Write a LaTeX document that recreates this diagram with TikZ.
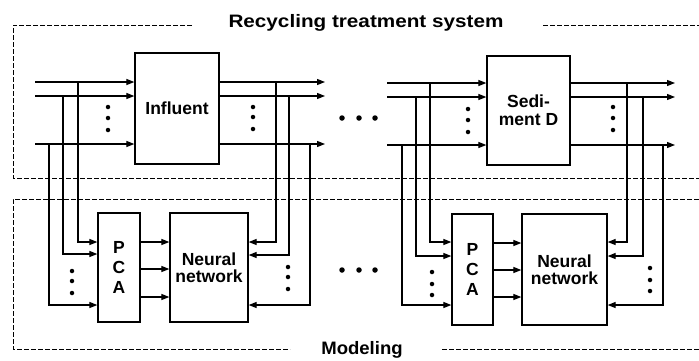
\documentclass[tikz,border=0pt]{standalone}
\usepackage{fontspec}
\setmainfont{Liberation Sans}
\usetikzlibrary{arrows.meta}
\begin{document}
\begin{tikzpicture}[x=1pt,y=-1pt,
  line width=1.2pt,
  arr/.style={-{Triangle[length=8pt,width=6pt]}},
  frame/.style={line width=1pt,dash pattern=on 5pt off 2pt},
  blk/.style={draw,line width=1.3pt,inner sep=0pt,font=\fontsize{17.5}{19}\selectfont\bfseries,align=center},
  dotm/.style={circle,fill,inner sep=0pt,minimum size=4.5pt},
  bigdot/.style={circle,fill,inner sep=0pt,minimum size=5.5pt},
  lbl/.style={inner sep=0pt,font=\fontsize{18}{18}\selectfont\bfseries}]
\useasboundingbox (0,0) rectangle (699,360);
\fill[white] (0,0) rectangle (699,360);

% frames
\node[lbl] (title) at (366,23) {\scalebox{1.15}[1]{Recycling treatment system}};
\node[lbl] (model) at (362,350) {\scalebox{1.03}[1]{Modeling}};
\draw[frame] (192,25) -- (13,25) -- (13,178) -- (699,178);
\draw[frame] (543,25) -- (699,25);
\draw[frame] (699,199) -- (13,199) -- (13,349) -- (290,349);
\draw[frame] (442,349) -- (699,349);

% blocks
\node[blk,minimum width=84pt,minimum height=111pt] (infl) at (177,108.5) {Influent};
\node[blk,minimum width=83pt,minimum height=109pt] (sed) at (528.5,110.5) {Sedi-\\[-1pt]ment D};
\node[blk,minimum width=42pt,minimum height=109pt] (pcaA) at (119,267.5) {P\\[1pt]C\\[1pt]A};
\node[blk,minimum width=78pt,minimum height=109pt] (nnA) at (209,267.5) {Neural\\[-2pt]network};
\node[blk,minimum width=41pt,minimum height=111pt] (pcaB) at (472.5,269.5) {P\\[1pt]C\\[1pt]A};
\node[blk,minimum width=85pt,minimum height=111pt] (nnB) at (564.5,269.5) {Neural\\[-2pt]network};

% group A input/output coordinates
\coordinate (ai1) at (35,82);  \coordinate (ai2) at (35,96);  \coordinate (ai3) at (35,144);
\coordinate (ao1) at (325,82); \coordinate (ao2) at (325,96); \coordinate (ao3) at (325,144);
\draw[arr] (ai1) -- (infl.west |- ai1);
\draw[arr] (ai2) -- (infl.west |- ai2);
\draw[arr] (ai3) -- (infl.west |- ai3);
\draw[arr] (infl.east |- ao1) -- (ao1);
\draw[arr] (infl.east |- ao2) -- (ao2);
\draw[arr] (infl.east |- ao3) -- (ao3);

% group A taps
\coordinate (ta1) at (78,82); \coordinate (ta2) at (63,96); \coordinate (ta3) at (49,144);
\coordinate (pa1) at (0,242); \coordinate (pa2) at (0,254); \coordinate (pa3) at (0,305);
\draw[arr] (ta1) |- (pcaA.west |- pa1);
\draw[arr] (ta2) |- (pcaA.west |- pa2);
\draw[arr] (ta3) |- (pcaA.west |- pa3);
\coordinate (ra1) at (276,82); \coordinate (ra2) at (289,96); \coordinate (ra3) at (310,144);
\coordinate (na1) at (0,242); \coordinate (na2) at (0,255); \coordinate (na3) at (0,305);
\draw[arr] (ra1) |- (nnA.east |- na1);
\draw[arr] (ra2) |- (nnA.east |- na2);
\draw[arr] (ra3) |- (nnA.east |- na3);
\coordinate (ma1) at (0,242); \coordinate (ma2) at (0,269); \coordinate (ma3) at (0,297);
\draw[arr] (pcaA.east |- ma1) -- (nnA.west |- ma1);
\draw[arr] (pcaA.east |- ma2) -- (nnA.west |- ma2);
\draw[arr] (pcaA.east |- ma3) -- (nnA.west |- ma3);

% group B input/output
\coordinate (bi1) at (387,83);  \coordinate (bi2) at (387,97);  \coordinate (bi3) at (387,145);
\coordinate (bo1) at (675,83); \coordinate (bo2) at (675,97); \coordinate (bo3) at (675,145);
\draw[arr] (bi1) -- (sed.west |- bi1);
\draw[arr] (bi2) -- (sed.west |- bi2);
\draw[arr] (bi3) -- (sed.west |- bi3);
\draw[arr] (sed.east |- bo1) -- (bo1);
\draw[arr] (sed.east |- bo2) -- (bo2);
\draw[arr] (sed.east |- bo3) -- (bo3);

\coordinate (tb1) at (430,83); \coordinate (tb2) at (416,97); \coordinate (tb3) at (402,145);
\coordinate (pb1) at (0,242); \coordinate (pb2) at (0,256); \coordinate (pb3) at (0,305);
\draw[arr] (tb1) |- (pcaB.west |- pb1);
\draw[arr] (tb2) |- (pcaB.west |- pb2);
\draw[arr] (tb3) |- (pcaB.west |- pb3);
\coordinate (rb1) at (627,83); \coordinate (rb2) at (643,97); \coordinate (rb3) at (663,145);
\coordinate (nb1) at (0,242); \coordinate (nb2) at (0,256); \coordinate (nb3) at (0,305);
\draw[arr] (rb1) |- (nnB.east |- nb1);
\draw[arr] (rb2) |- (nnB.east |- nb2);
\draw[arr] (rb3) |- (nnB.east |- nb3);
\coordinate (mb1) at (0,243); \coordinate (mb2) at (0,270); \coordinate (mb3) at (0,297);
\draw[arr] (pcaB.east |- mb1) -- (nnB.west |- mb1);
\draw[arr] (pcaB.east |- mb2) -- (nnB.west |- mb2);
\draw[arr] (pcaB.east |- mb3) -- (nnB.west |- mb3);

% vertical ellipsis dots
\foreach \x/\a/\b/\c in {108/107/118/130, 253/107/117/129, 468/109/120/132, 613/107/118/130,
  72/271/281/293, 288/267/277/289, 432/272/284/295, 650/268/280/291}{
  \node[dotm] at (\x,\a) {};
  \node[dotm] at (\x,\b) {};
  \node[dotm] at (\x,\c) {};
}
% horizontal ellipsis dots
\foreach \x in {342,359,375}{
  \node[bigdot] at (\x,118) {};
  \node[bigdot] at (\x,270) {};
}
\end{tikzpicture}
\end{document}
